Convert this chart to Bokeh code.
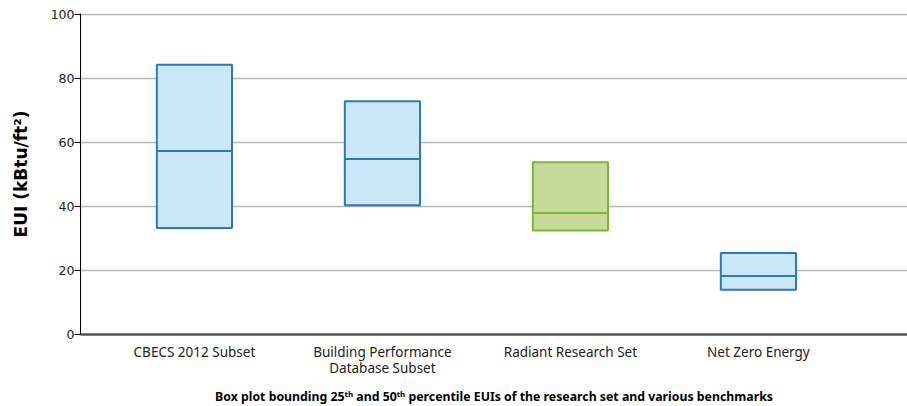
from bokeh.plotting import figure
from bokeh.models import FixedTicker, Range1d
from bokeh.embed import file_html
from bokeh.resources import INLINE

categories = ["CBECS 2012 Subset", "Building Performance\nDatabase Subset",
              "Radiant Research Set", "Net Zero Energy"]
q25 = [33.3, 40.4, 32.5, 14.0]
q50 = [57.3, 54.8, 38.0, 18.3]
top = [84.3, 72.9, 53.8, 25.5]
fills = ["#cbe8f8", "#cbe8f8", "#c6da9c", "#cbe8f8"]
lines = ["#2b78c0", "#2b78c0", "#79b930", "#2b78c0"]
yticks = [0, 20, 40, 60, 80, 100]

xs = list(range(len(categories)))

p = figure(output_backend="svg", toolbar_location=None,
           frame_width=827, frame_height=321,
           x_range=Range1d(-0.606, 3.793), y_range=Range1d(0, 100.3),
           min_border_left=80, min_border_right=0, min_border_top=13,
           min_border_bottom=72)
p.outline_line_color = None
p.background_fill_color = "white"

p.quad(left=[x - 0.2 for x in xs], right=[x + 0.2 for x in xs],
       bottom=q25, top=top, fill_color=fills, line_color=lines, line_width=2)
p.segment(x0=[x - 0.2 for x in xs], x1=[x + 0.2 for x in xs], y0=q50, y1=q50,
          line_color=lines, line_width=2)

# axes
p.yaxis.ticker = FixedTicker(ticks=yticks)
p.yaxis.minor_tick_line_color = None
p.yaxis.major_tick_out = 6
p.yaxis.major_tick_in = 0
p.yaxis.axis_line_color = "black"
p.yaxis.major_tick_line_color = "black"
p.yaxis.major_label_text_font = "DejaVu Sans"
p.yaxis.major_label_text_font_size = "12.5px"
p.yaxis.major_label_text_color = "#222222"
p.yaxis.major_label_standoff = 0
p.yaxis.axis_label = "EUI (kBtu/ft²)"
p.yaxis.axis_label_text_font = "DejaVu Sans"
p.yaxis.axis_label_text_font_style = "bold"
p.yaxis.axis_label_text_font_size = "17px"
p.yaxis.axis_label_text_color = "black"
p.yaxis.axis_label_standoff = 17

p.xaxis.ticker = FixedTicker(ticks=xs)
p.xaxis.major_label_overrides = {i: c for i, c in enumerate(categories)}
p.xaxis.minor_tick_line_color = None
p.xaxis.major_tick_line_color = None
p.xaxis.axis_line_color = "#555555"
p.xaxis.axis_line_width = 2.5
p.xaxis.major_label_text_font = "Noto Sans"
p.xaxis.major_label_text_font_size = "13.5px"
p.xaxis.major_label_text_color = "#222222"
p.xaxis.major_label_text_line_height = 0.9
p.xaxis.major_label_standoff = 2
p.xaxis.axis_label = "Box plot bounding 25ᵗʰ and 50ᵗʰ percentile EUIs of the research set and various benchmarks"
p.xaxis.axis_label_text_font = "Noto Sans"
p.xaxis.axis_label_text_font_style = "bold"
p.xaxis.axis_label_text_font_size = "12.3px"
p.xaxis.axis_label_text_color = "black"
p.xaxis.axis_label_standoff = 8

p.xgrid.grid_line_color = None
p.ygrid.ticker = FixedTicker(ticks=yticks[1:])
p.ygrid.grid_line_color = "#b8b8b8"
p.ygrid.grid_line_width = 1.5

open("out.html", "w").write(file_html(p, INLINE))
